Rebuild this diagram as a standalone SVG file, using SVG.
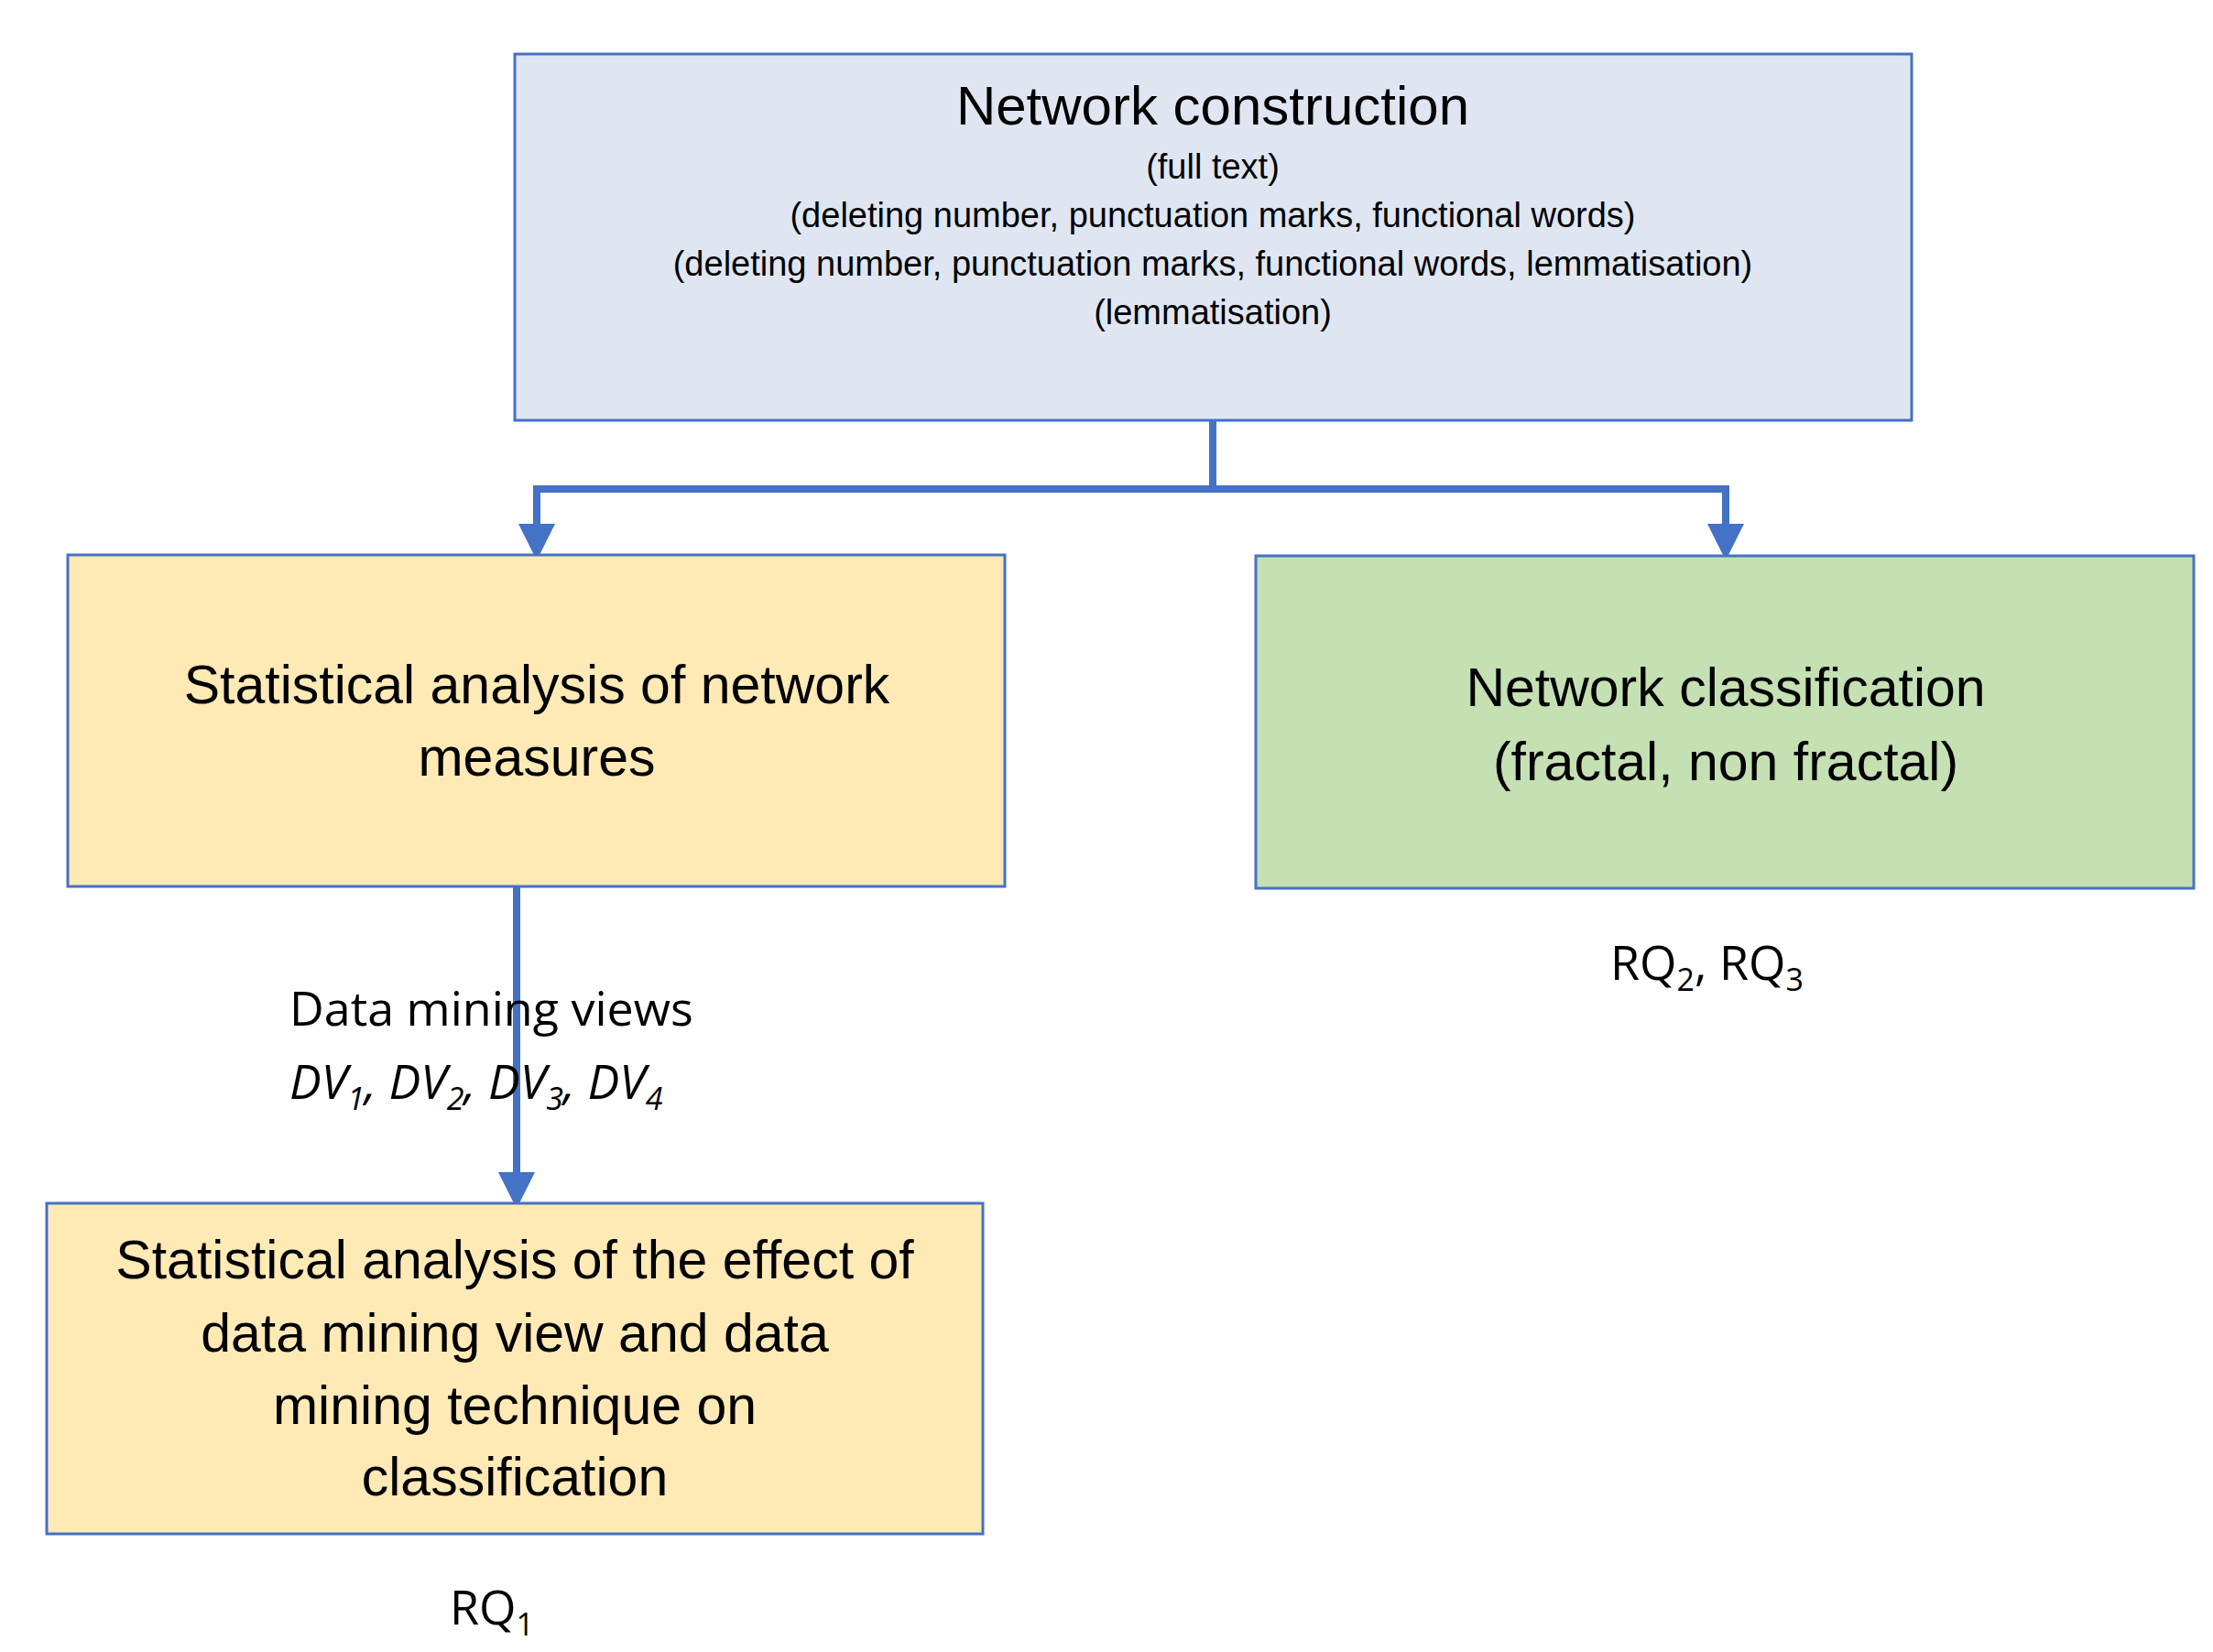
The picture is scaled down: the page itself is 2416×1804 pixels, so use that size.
<svg xmlns="http://www.w3.org/2000/svg" width="2416" height="1804" viewBox="0 0 2416 1804">
<style>
.box{stroke:#4472c4;stroke-width:3}
.t{font-family:"Liberation Sans",Arial,sans-serif;fill:#000;text-anchor:middle}
.l{font-family:"Open Sans","Liberation Sans",sans-serif;fill:#000;font-size:52px}
.c{fill:none;stroke:#4472c4;stroke-width:8}
</style>
<defs><marker id="a" markerWidth="5" markerHeight="5" refX="2.5" refY="2.5" orient="auto" markerUnits="strokeWidth" viewBox="0 0 5 5"><path d="M0,0 L5,2.5 L0,5z" fill="#4472c4"/></marker></defs>
<rect width="2416" height="1804" fill="#fff"/>
<g id="connectors">
<path class="c" d="M1324,459 V534 H586 V592" marker-end="url(#a)"/>
<path class="c" d="M1324,534 H1884 V592" marker-end="url(#a)"/>
<path class="c" d="M564,968 V1300" marker-end="url(#a)"/>
</g>
<g id="n1"><rect class="box" x="562" y="59" width="1525" height="400" fill="#dfe6f2"/>
<text class="t" x="1324" y="136" font-size="60">Network construction</text>
<text class="t" font-size="38"><tspan x="1324" y="195">(full text)</tspan><tspan x="1324" y="248">(deleting number, punctuation marks, functional words)</tspan><tspan x="1324" y="301">(deleting number, punctuation marks, functional words, lemmatisation)</tspan><tspan x="1324" y="354">(lemmatisation)</tspan></text></g>
<g id="n2"><rect class="box" x="74" y="606" width="1023" height="362" fill="#ffeab6"/>
<text class="t" font-size="59"><tspan x="586" y="768">Statistical analysis of network</tspan><tspan x="586" y="847">measures</tspan></text></g>
<g id="n3"><rect class="box" x="1371" y="607" width="1024" height="363" fill="#c5e0b3"/>
<text class="t" font-size="59"><tspan x="1884" y="771">Network classification</tspan><tspan x="1884" y="852">(fractal, non fractal)</tspan></text></g>
<g id="n4"><rect class="box" x="51" y="1314" width="1022" height="361" fill="#ffeab6"/>
<text class="t" font-size="59"><tspan x="562" y="1396">Statistical analysis of the effect of</tspan><tspan x="562" y="1476">data mining view and data</tspan><tspan x="562" y="1555">mining technique on</tspan><tspan x="562" y="1633">classification</tspan></text></g>
<g id="labels">
<text class="l" x="316" y="1120">Data mining views</text>
<text class="l" x="316" y="1200" font-style="italic">DV<tspan font-size="34" dy="12">1</tspan><tspan dy="-12">, DV</tspan><tspan font-size="34" dy="12">2</tspan><tspan dy="-12">, DV</tspan><tspan font-size="34" dy="12">3</tspan><tspan dy="-12">, DV</tspan><tspan font-size="34" dy="12">4</tspan></text>
<text class="l" x="1758" y="1070">RQ<tspan font-size="34" dy="12">2</tspan><tspan dy="-12">, RQ</tspan><tspan font-size="34" dy="12">3</tspan></text>
<text class="l" x="491" y="1774">RQ<tspan font-size="34" dy="12">1</tspan></text>
</g>
</svg>
